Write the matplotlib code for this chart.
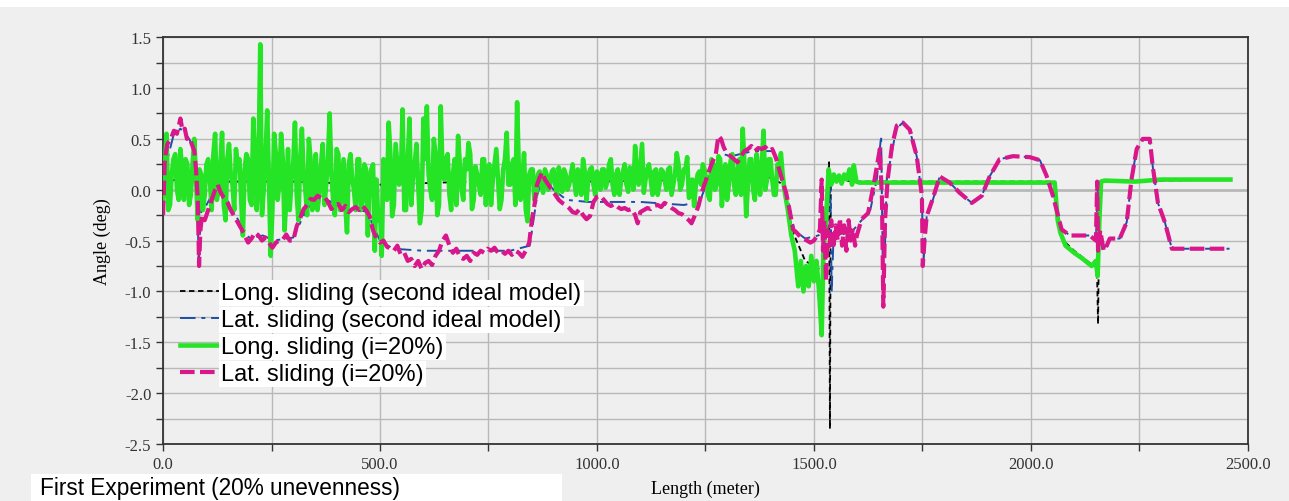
import numpy as np
import matplotlib
matplotlib.use("Agg")
import matplotlib.pyplot as plt
from matplotlib.patches import Rectangle

# Long. sliding (i=20%) -- noisy part, read every 8 m from 0 to 1440 m
green_noisy_y = [
    -0.1, 0.55, -0.15, 0.3, 0.0, 0.4, -0.1, 0.25, -0.05, 0.5, -0.3,
    0.15, -0.05, 0.3, -0.2, 0.55, 0.0, 0.56, -0.3, 0.45, 0.05, 0.4, 0.3, -0.45, 0.35, -0.1,
    0.7, -0.2, 1.43, 0.0, 0.78, -0.65, 0.55, -0.1, 0.55, -0.4, 0.4, 0.1,
    0.66, -0.3, 0.6, 0.0, 0.5, -0.2, 0.35, -0.05, 0.45, 0.05, 0.75, -0.1, 0.4,
    -0.2, 0.3, -0.42, 0.35, 0.0, 0.3, -0.2, 0.25, -0.45, 0.2, -0.6, -0.3,
    -0.65, 0.2, 0.66, -0.26, 0.45, 0.05, 0.79, -0.2, 0.7, 0.1, 0.45, -0.33, 0.7,
    0.82, 0.0, 0.5, -0.25, 0.82, 0.1, 0.35, -0.2, 0.3, 0.53, 0.0, 0.3, 0.46,
    -0.19, 0.23, 0.05, 0.3, -0.15, 0.25, 0.1, 0.4, -0.19, 0.2, 0.56, 0.05,
    0.3, 0.86, -0.1, 0.36, -0.31, 0.2, -0.1, 0.15, 0.05, 0.2, 0.0, 0.18, 0.05,
    0.22, -0.02, 0.15, 0.05, 0.25, -0.05, 0.15, 0.3, -0.1, 0.2, 0.05, 0.18,
    0.0, 0.2, 0.08, 0.3, -0.05, 0.2, 0.1, 0.25, -0.02, 0.2, 0.43, 0.05, 0.45,
    0.1, 0.25, -0.05, 0.2, 0.05, 0.18, 0.0, 0.22, 0.05, 0.36, 0.0, 0.2,
    0.32, -0.05, -0.16, 0.15, 0.05, 0.2, -0.05, 0.3, 0.0, 0.33, -0.16, 0.25,
    0.05, 0.35, -0.05, 0.3, 0.6, -0.26, 0.3, 0.0, 0.35, -0.05, 0.58, 0.1, 0.3,
    -0.05, 0.25, 0.36, 0.0, -0.2,
]
# same series, the readings in between (4, 12, 20 ... 1436 m)
green_mid_y = [
    0.2, -0.2, 0.15, 0.35, -0.1, 0.2, 0.3, -0.15, 0.25, 0.1, 0.2, -0.2,
    0.25, 0.1, 0.35, -0.1, 0.25, -0.15, 0.3, 0.15, -0.2, 0.25, -0.1, 0.2,
    0.3, -0.15, 0.35, 0.2, -0.25, 0.3, 0.1, -0.2, 0.35, 0.05, 0.3, -0.1,
    -0.2, 0.25, -0.05, 0.3, 0.15, -0.25, 0.3, 0.1, -0.2, 0.25, -0.15, 0.3,
    0.15, -0.25, 0.35, 0.05, -0.15, 0.25, 0.1, -0.2, 0.3, -0.1, 0.2, 0.1,
    0.25, 0.1, -0.2, 0.3, -0.1, 0.35, -0.15, 0.25, 0.1, -0.2, 0.3, -0.15,
    0.25, 0.05, -0.2, 0.3, 0.15, -0.1, 0.35, -0.15, 0.2, 0.3, -0.05, 0.15,
    -0.15, 0.25, -0.1, 0.2, 0.35, -0.1, 0.15, -0.05, 0.3, 0.2, -0.15, 0.25,
    0.1, -0.1, 0.3, 0.05, 0.25, -0.15, 0.2, 0.1, -0.2, 0.15, 0.2, -0.05,
    0.18, -0.03, 0.15, 0.05, 0.2, -0.05, 0.12, 0.2, 0.0, 0.15, 0.08, 0.2,
    -0.05, 0.18, 0.1, 0.22, -0.05, 0.12, 0.2, 0.02, 0.25, 0.05, 0.15, -0.05,
    0.18, 0.05, 0.22, 0.0, 0.15, 0.25, -0.03, 0.2, 0.1, 0.18, -0.05, 0.2,
    0.1, 0.2, -0.05, 0.15, 0.25, 0.05, 0.2, -0.08, 0.1, 0.05, 0.18, 0.25,
    0.1, -0.1, 0.25, 0.05, 0.3, 0.15, -0.1, 0.28, 0.05, 0.2, -0.05, 0.25,
    0.05, 0.3, -0.1, 0.2, 0.25, 0.0, 0.3, 0.1, -0.05, 0.2, 0.15, -0.1,
]
green_tail_x = [1448, 1456, 1464, 1470, 1476, 1482, 1488, 1494, 1500, 1506, 1512, 1518,
                1522, 1528, 1534, 1540, 1546, 1552, 1558, 1564, 1570, 1576, 1582, 1588,
                1592, 1598, 1605, 2055, 2062, 2068, 2080, 2100, 2120, 2140, 2150, 2154,
                2158, 2162, 2170, 2240, 2300, 2460]
green_tail_y = [-0.45, -0.6, -0.95, -0.7, -1.0, -0.75, -0.95, -0.65, -0.9, -0.7, -1.0, -1.43,
                -0.6, -0.3, 0.2, 0.05, 0.15, 0.08, 0.14, 0.06, 0.15, 0.1, 0.2, 0.05,
                0.24, 0.08, 0.07, 0.07, -0.3, -0.42, -0.55, -0.62, -0.68, -0.75, -0.7, -0.85,
                -0.3, 0.08, 0.09, 0.08, 0.1, 0.1]

# Long. sliding (second ideal model)
black_x = [0, 100, 300, 500, 850, 1000, 1250, 1400, 1430, 1450, 1480, 1500, 1520, 1535,
           1537, 1539, 1600, 2055, 2063, 2075, 2100, 2130, 2145, 2150, 2153, 2155, 2157,
           2160, 2460]
black_y = [0.1, 0.08, 0.08, 0.05, 0.1, 0.08, 0.1, 0.12, 0.05, -0.4, -0.7, -0.75, -0.8, 0.27,
           -2.35, 0.1, 0.08, 0.08, -0.3, -0.5, -0.6, -0.7, -0.75, -0.7, -0.9, -1.32, -0.5,
           0.08, 0.1]

# Lat. sliding (second ideal model)
blue_x = [0, 10, 25, 40, 60, 72, 78, 82, 88, 100, 125, 150, 180, 200, 230, 255, 300, 330,
          350, 370, 400, 440, 470, 500, 530, 600, 700, 800, 845, 860, 868, 880, 900, 930,
          980, 1100, 1200, 1237, 1260, 1290, 1310, 1360, 1405, 1425, 1440, 1455, 1480,
          1510, 1530, 1538, 1541, 1545, 1560, 1590, 1610, 1630, 1645, 1655, 1660, 1668,
          1690, 1705, 1720, 1737, 1749, 1752, 1760, 1775, 1790, 1813, 1836, 1864, 1887,
          1905, 1928, 1959, 2000, 2021, 2036, 2051, 2063, 2072, 2090, 2136, 2150, 2155,
          2157, 2175, 2182, 2205, 2221, 2232, 2244, 2258, 2274, 2281, 2293, 2309, 2325,
          2360, 2458]
blue_y = [-0.2, 0.3, 0.55, 0.6, 0.5, 0.4, 0.1, -0.7, -0.2, -0.15, 0.05, -0.12, -0.35, -0.48,
          -0.45, -0.5, -0.47, -0.2, -0.1, -0.08, -0.15, -0.18, -0.22, -0.5, -0.58, -0.6, -0.6,
          -0.6, -0.55, -0.12, 0.05, 0.12, 0.0, -0.1, -0.12, -0.12, -0.15, -0.12, 0.15, 0.35,
          0.33, 0.38, 0.38, 0.15, -0.1, -0.4, -0.48, -0.45, -0.4, 0.05, -1.0, -0.5, -0.45,
          -0.4, -0.3, -0.2, 0.1, 0.53, -1.15, 0.1, 0.6, 0.66, 0.6, 0.33, -0.06, -0.75, -0.26,
          -0.09, 0.13, 0.07, -0.03, -0.13, -0.06, 0.13, 0.3, 0.33, 0.32, 0.29, 0.14, -0.06,
          -0.26, -0.39, -0.45, -0.45, -0.5, 0.08, -0.6, -0.55, -0.48, -0.48, -0.32, 0.1, 0.4,
          0.5, 0.5, 0.23, -0.13, -0.32, -0.58, -0.58, -0.58]

# Lat. sliding (i=20%)
lat_x = [0, 4, 10, 18, 25, 32, 40, 45, 50, 55, 60, 66, 72, 76, 80, 83, 86, 90, 96, 104, 112,
         120, 126, 132, 140, 148, 156, 164, 172, 180, 188, 196, 204, 212, 220, 228, 236, 244,
         252, 260, 268, 276, 284, 292, 300, 308, 316, 324, 332, 340, 348, 356, 364, 372, 380,
         388, 396, 404, 412, 420, 428, 436, 444, 452, 460, 468, 476, 484, 492, 500, 508, 516,
         524, 532, 540, 548, 556, 564, 572, 580, 588, 596, 604, 612, 620, 628, 636, 644, 652,
         660, 668, 676, 684, 692, 700, 708, 716, 724, 732, 740, 748, 756, 764, 772, 780, 788,
         796, 804, 812, 820, 828, 836, 844, 850, 856, 862, 868, 874, 880, 888, 896, 904, 912,
         920, 928, 936, 944, 952, 960, 968, 976, 984, 992, 1000, 1008, 1016, 1024, 1032, 1040,
         1048, 1056, 1064, 1072, 1080, 1088, 1094, 1100, 1108, 1116, 1124, 1132, 1140, 1148,
         1156, 1164, 1172, 1180, 1188, 1196, 1204, 1212, 1218, 1226, 1234, 1242, 1250, 1258,
         1266, 1274, 1280, 1286, 1292, 1300, 1308, 1316, 1324, 1332, 1340, 1348, 1356, 1364,
         1372, 1380, 1388, 1396, 1404, 1412, 1420, 1428, 1436, 1444, 1452, 1460, 1468, 1476,
         1484, 1492, 1500, 1508, 1514, 1518, 1521, 1524, 1528, 1532, 1536, 1540, 1545, 1550,
         1555, 1560, 1565, 1570, 1575, 1580, 1585, 1590, 1595, 1599, 1610, 1625, 1640, 1652,
         1657, 1660, 1664, 1670, 1680, 1691, 1705, 1721, 1737, 1749, 1751, 1755, 1760, 1774,
         1790, 1813, 1836, 1864, 1887, 1905, 1928, 1959, 1998, 2021, 2036, 2051, 2063, 2071,
         2090, 2136, 2150, 2153, 2155, 2160, 2168, 2175, 2182, 2205, 2221, 2232, 2244, 2258,
         2274, 2281, 2293, 2309, 2325, 2359, 2458]
lat_y = [-0.25, 0.3, 0.45, 0.5, 0.58, 0.55, 0.7, 0.58, 0.6, 0.5, 0.52, 0.45, 0.38, 0.2, -0.1,
         -0.75, -0.4, -0.25, -0.3, -0.2, -0.1, 0.0, 0.05, -0.02, -0.08, -0.12, -0.2, -0.26,
         -0.32, -0.38, -0.45, -0.52, -0.48, -0.42, -0.45, -0.5, -0.47, -0.52, -0.57, -0.52,
         -0.5, -0.49, -0.44, -0.5, -0.5, -0.36, -0.28, -0.19, -0.15, -0.09, -0.1, -0.06, -0.08,
         -0.07, -0.12, -0.19, -0.15, -0.14, -0.2, -0.16, -0.22, -0.19, -0.17, -0.2, -0.16,
         -0.2, -0.26, -0.4, -0.48, -0.52, -0.5, -0.56, -0.58, -0.6, -0.55, -0.64, -0.62, -0.7,
         -0.68, -0.75, -0.7, -0.78, -0.72, -0.7, -0.74, -0.65, -0.6, -0.5, -0.45, -0.55, -0.62,
         -0.58, -0.66, -0.68, -0.65, -0.7, -0.62, -0.64, -0.6, -0.62, -0.58, -0.6, -0.57,
         -0.62, -0.6, -0.63, -0.6, -0.64, -0.6, -0.62, -0.66, -0.6, -0.52, -0.3, -0.15, 0.05,
         0.12, 0.17, 0.1, 0.05, 0.0, -0.05, -0.1, -0.13, -0.15, -0.18, -0.22, -0.23, -0.19,
         -0.25, -0.29, -0.26, -0.12, -0.07, -0.06, -0.1, -0.14, -0.16, -0.14, -0.17, -0.19,
         -0.18, -0.2, -0.19, -0.25, -0.33, -0.22, -0.2, -0.18, -0.19, -0.16, -0.15, -0.17,
         -0.13, -0.15, -0.18, -0.2, -0.23, -0.24, -0.27, -0.3, -0.33, -0.25, -0.16, -0.02,
         0.08, 0.18, 0.27, 0.35, 0.53, 0.5, 0.42, 0.35, 0.33, 0.3, 0.27, 0.33, 0.38, 0.4, 0.43,
         0.38, 0.41, 0.4, 0.42, 0.38, 0.4, 0.32, 0.2, 0.08, -0.03, -0.2, -0.39, -0.42, -0.46,
         -0.48, -0.5, -0.52, -0.5, -0.45, -0.39, 0.1, -0.6, -0.3, -0.9, -0.4, -0.55, -0.3,
         -0.58, -0.35, -0.5, -0.28, -0.55, -0.35, -0.6, -0.3, -0.5, -0.38, -0.55, -0.45, -0.29,
         -0.23, 0.1, 0.4, -0.1, -1.15, -0.3, 0.1, 0.43, 0.63, 0.66, 0.59, 0.33, -0.06, -0.75,
         -0.5, -0.26, -0.09, 0.13, 0.07, -0.03, -0.13, -0.06, 0.13, 0.3, 0.33, 0.32, 0.29,
         0.14, -0.06, -0.26, -0.39, -0.45, -0.45, -0.5, 0.08, -0.6, -0.4, -0.6, -0.55, -0.48,
         -0.48, -0.32, 0.1, 0.4, 0.5, 0.5, 0.23, -0.13, -0.32, -0.58, -0.58, -0.58]

labels = ["Long. sliding (second ideal model)", "Lat. sliding (second ideal model)",
          "Long. sliding (i=20%)", "Lat. sliding (i=20%)"]

# interleave the two green readings, then append the tail
gx = np.concatenate([np.linspace(0, 1440, len(green_noisy_y)),
                     np.linspace(4, 1436, len(green_mid_y))])
gy = np.array(green_noisy_y + green_mid_y)
order = np.argsort(gx, kind="stable")
green_x = list(gx[order]) + green_tail_x
green_y = list(gy[order]) + green_tail_y

fig = plt.figure(figsize=(12.89, 5.02), dpi=100, facecolor="#efefef")
ax = fig.add_axes([0.1265, 0.1135, 0.8415, 0.8105])
ax.set_facecolor("#efefef")
fig.patches.append(Rectangle((0, 0.984), 1, 0.016, transform=fig.transFigure,
                             facecolor="white", edgecolor="none"))
fig.patches.append(Rectangle((0.024, 0.0), 0.412, 0.054, transform=fig.transFigure,
                             facecolor="white", edgecolor="none"))

ax.plot(black_x, black_y, color="black", lw=1.3, ls=(0, (3, 2)), zorder=3, label=labels[0])
ax.plot(blue_x, blue_y, color="#1c4fa8", lw=1.4, ls=(0, (8, 3, 2, 3)), zorder=4, label=labels[1])
ax.plot(green_x, green_y, color="#25e325", lw=3.3, zorder=5, label=labels[2])
ax.plot(lat_x, lat_y, color="#d9168a", lw=3.0, ls=(0, (3.5, 1.3)), zorder=6, label=labels[3])

ax.set_xlim(0, 2500)
ax.set_ylim(-2.5, 1.5)
ax.set_xticks(np.arange(0, 2501, 500))
ax.set_xticks(np.arange(250, 2500, 500), minor=True)
ax.set_yticks(np.arange(-2.5, 1.51, 0.5))
ax.set_yticks(np.arange(-2.25, 1.5, 0.5), minor=True)
ax.set_xticklabels(["%.1f" % v for v in np.arange(0, 2501, 500)])
ax.set_yticklabels(["%.1f" % v for v in np.arange(-2.5, 1.51, 0.5)])
ax.grid(True, which="both", color="#b8b8b8", lw=1.0, zorder=0)
ax.axhline(0, color="black", lw=1.0, zorder=1)
ax.tick_params(which="both", direction="out", length=5, width=1, colors="#333333",
               labelsize=12, labelcolor="#333333")
for lab in ax.get_xticklabels() + ax.get_yticklabels():
    lab.set_family("Liberation Serif")
for sp in ax.spines.values():
    sp.set_color("#333333")
    sp.set_linewidth(1.3)

ax.set_xlabel("Length (meter)", family="Liberation Serif", fontsize=13, labelpad=6)
ax.set_ylabel("Angle (deg)", family="Liberation Serif", fontsize=13, labelpad=10)

leg = ax.legend(loc="upper left", bbox_to_anchor=(0.007, 0.422), borderaxespad=0,
                frameon=False, prop={"family": "Liberation Sans", "size": 17},
                handlelength=1.7, handletextpad=0.05, labelspacing=0.22)
for t in leg.get_texts():
    t.set_bbox(dict(facecolor="white", edgecolor="none", pad=1.5))

fig.text(0.031, 0.026, "First Experiment (20% unevenness)", family="Liberation Sans",
         fontsize=16.3, ha="left", va="center")

fig.savefig("out.png", dpi=100, facecolor=fig.get_facecolor())
